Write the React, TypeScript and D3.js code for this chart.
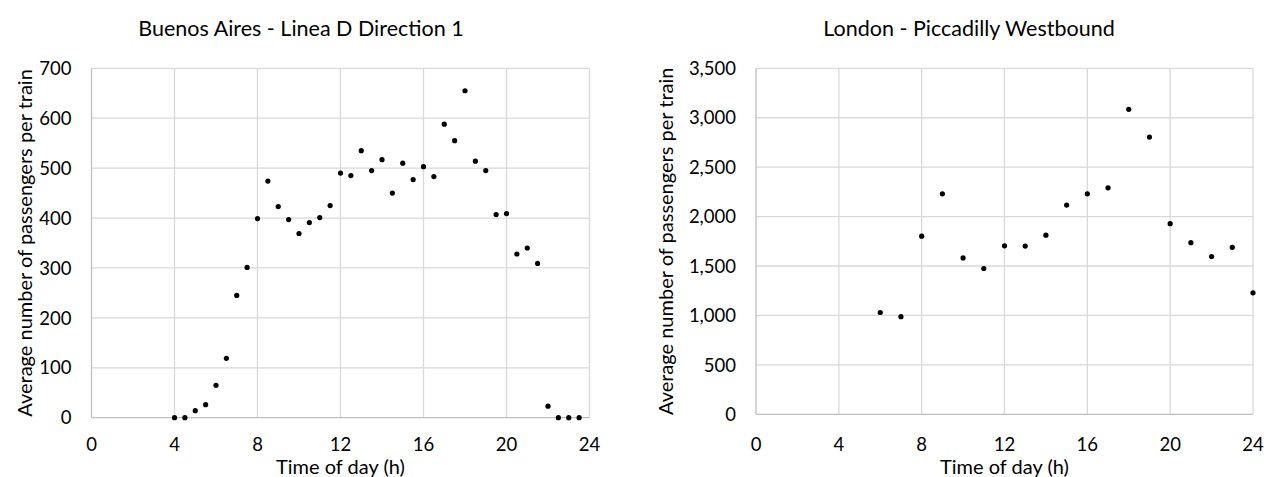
import { useEffect, useRef } from "react";
import * as d3 from "d3";

// Buenos Aires - Linea D, half-hourly
const baHours = [
    4, 4.5, 5, 5.5, 6, 6.5, 7, 7.5, 8, 8.5, 9, 9.5, 10, 10.5, 11, 11.5, 12, 12.5, 13, 13.5,
    14, 14.5, 15, 15.5, 16, 16.5, 17, 17.5, 18, 18.5, 19, 19.5, 20, 20.5, 21, 21.5, 22, 22.5, 23, 23.5,
];
const baPassengers = [
    0, 0, 14, 26, 65, 119, 245, 301, 399, 474, 423, 397, 369, 391, 401, 425, 490, 485, 535, 495,
    517, 450, 510, 477, 503, 483, 588, 555, 655, 514, 495, 407, 409, 328, 340, 309, 23, 0, 0, 0,
];

// London - Piccadilly westbound, hourly
const lonHours = [6, 7, 8, 9, 10, 11, 12, 13, 14, 15, 16, 17, 18, 19, 20, 21, 22, 23, 24];
const lonPassengers = [
    1030, 988, 1802, 2230, 1582, 1475, 1704, 1702, 1812, 2116, 2230, 2291, 3085, 2804, 1928, 1736, 1596, 1689, 1229,
];

const hourTicks = [0, 4, 8, 12, 16, 20, 24];
const baTicks = [0, 100, 200, 300, 400, 500, 600, 700];
const lonTicks = [0, 500, 1000, 1500, 2000, 2500, 3000, 3500];

const FONT = "Lato, 'Open Sans', sans-serif";

type PanelProps = {
    title: string;
    hours: number[];
    values: number[];
    yTicks: number[];
    left: number;
    right: number;
    top: number;
    bottom: number;
    titleX: number;
    yTitleX: number;
};

const panels: PanelProps[] = [
    {
        title: "Buenos Aires - Linea D Direction 1",
        hours: baHours, values: baPassengers, yTicks: baTicks,
        left: 91.5, right: 589.5, top: 68.3, bottom: 417.7, titleX: 301, yTitleX: 31.5,
    },
    {
        title: "London - Piccadilly Westbound",
        hours: lonHours, values: lonPassengers, yTicks: lonTicks,
        left: 756, right: 1253, top: 68.3, bottom: 414.3, titleX: 969, yTitleX: 673,
    },
];

const App: React.FC = () => {
    const svgRef = useRef<SVGSVGElement | null>(null);

    useEffect(() => {
        if (!svgRef.current) return;
        const svg = d3.select(svgRef.current);
        svg.selectAll("*").remove();

        panels.forEach(p => {
            const x = d3.scaleLinear().domain([0, 24]).range([p.left, p.right]);
            const y = d3.scaleLinear().domain([0, d3.max(p.yTicks) as number]).range([p.bottom, p.top]);
            const g = svg.append("g");

            // gridlines
            g.selectAll(".hgrid").data(p.yTicks.slice(1)).enter().append("line")
                .attr("x1", p.left).attr("x2", p.right)
                .attr("y1", d => y(d)).attr("y2", d => y(d))
                .attr("stroke", "#d9d9d9").attr("stroke-width", 1.3);
            g.selectAll(".vgrid").data(hourTicks.slice(1)).enter().append("line")
                .attr("x1", d => x(d)).attr("x2", d => x(d))
                .attr("y1", p.top).attr("y2", p.bottom)
                .attr("stroke", "#d9d9d9").attr("stroke-width", 1.3);

            // axes
            g.append("line").attr("x1", p.left).attr("x2", p.right)
                .attr("y1", p.bottom).attr("y2", p.bottom)
                .attr("stroke", "#bfbfbf").attr("stroke-width", 1.3);
            g.append("line").attr("x1", p.left).attr("x2", p.left)
                .attr("y1", p.top).attr("y2", p.bottom)
                .attr("stroke", "#bfbfbf").attr("stroke-width", 1.3);

            // tick labels
            const fmt = d3.format(",");
            g.selectAll(".ylab").data(p.yTicks).enter().append("text")
                .attr("x", p.left - 20).attr("y", d => y(d))
                .attr("dy", "0.36em").attr("text-anchor", "end")
                .attr("font-family", FONT).attr("font-size", 18.5).attr("fill", "#000")
                .text(d => fmt(d));
            g.selectAll(".xlab").data(hourTicks).enter().append("text")
                .attr("x", d => x(d)).attr("y", 450.7)
                .attr("text-anchor", "middle")
                .attr("font-family", FONT).attr("font-size", 18.5).attr("fill", "#000")
                .text(d => String(d));

            // titles
            g.append("text").attr("x", p.titleX).attr("y", 36)
                .attr("text-anchor", "middle")
                .attr("font-family", FONT).attr("font-size", 21.5).attr("fill", "#000")
                .text(p.title);
            g.append("text").attr("x", (p.left + p.right) / 2).attr("y", 474)
                .attr("text-anchor", "middle")
                .attr("font-family", FONT).attr("font-size", 20).attr("fill", "#000")
                .text("Time of day (h)");
            g.append("text")
                .attr("transform", `translate(${p.yTitleX},${(p.top + p.bottom) / 2}) rotate(-90)`)
                .attr("text-anchor", "middle")
                .attr("font-family", FONT).attr("font-size", 20).attr("fill", "#000")
                .text("Average number of passengers per train");

            // points
            g.selectAll(".pt").data(p.hours.map((h, i) => [h, p.values[i]])).enter().append("circle")
                .attr("cx", d => x(d[0])).attr("cy", d => y(d[1]))
                .attr("r", 2.6).attr("fill", "#000");
        });
    }, []);

    return (
        <svg ref={svgRef} width={1267} height={477}
            style={{ position: "absolute", left: 0, top: 0, background: "#fff" }} />
    );
};

export default App;
